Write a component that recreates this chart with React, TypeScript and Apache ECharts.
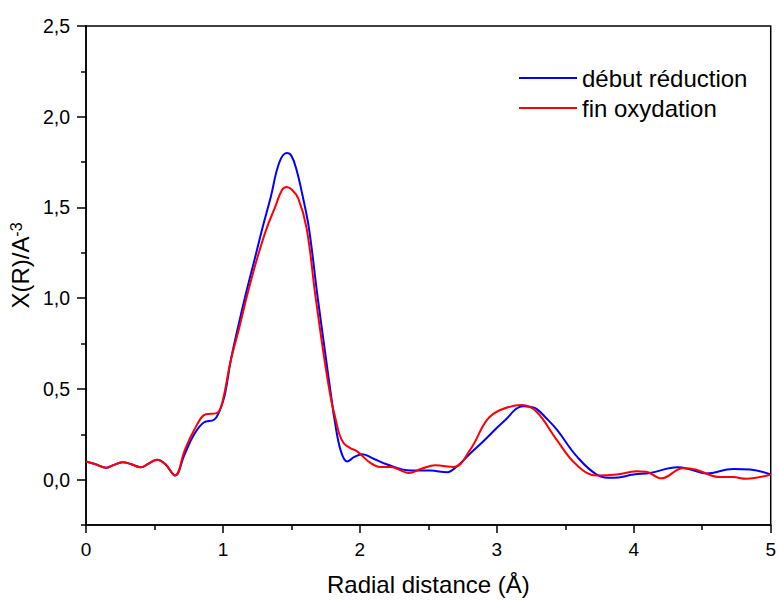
import React, { useEffect, useRef } from "react";
import * as echarts from "echarts";

const blueR = [0, 0.07, 0.146, 0.2, 0.267, 0.33, 0.4, 0.46, 0.52, 0.58, 0.65, 0.72, 0.79, 0.86, 0.935, 0.97, 1.01, 1.057, 1.11, 1.166, 1.23, 1.288, 1.35, 1.41, 1.465, 1.5, 1.54, 1.58, 1.628, 1.689, 1.754, 1.79, 1.815, 1.86, 1.907, 1.96, 2.017, 2.1, 2.2, 2.37, 2.515, 2.636, 2.71, 2.8, 2.9, 3.05, 3.195, 3.25, 3.29, 3.36, 3.44, 3.584, 3.73, 3.85, 4.0, 4.12, 4.32, 4.42, 4.53, 4.725, 4.85, 5.0];
const blueV = [0.1, 0.085, 0.065, 0.08, 0.096, 0.085, 0.068, 0.09, 0.11, 0.085, 0.023, 0.14, 0.25, 0.315, 0.33, 0.37, 0.456, 0.657, 0.84, 1.02, 1.21, 1.385, 1.56, 1.745, 1.8, 1.785, 1.7, 1.57, 1.385, 1.02, 0.657, 0.46, 0.329, 0.16, 0.1, 0.125, 0.14, 0.115, 0.083, 0.05, 0.05, 0.041, 0.074, 0.14, 0.21, 0.32, 0.405, 0.4, 0.39, 0.34, 0.274, 0.128, 0.028, 0.01, 0.028, 0.037, 0.068, 0.055, 0.034, 0.059, 0.056, 0.028];

const redR = [0, 0.07, 0.146, 0.2, 0.267, 0.33, 0.4, 0.46, 0.52, 0.58, 0.65, 0.72, 0.79, 0.875, 0.95, 0.99, 1.057, 1.12, 1.178, 1.25, 1.319, 1.38, 1.43, 1.465, 1.5, 1.55, 1.611, 1.674, 1.742, 1.79, 1.824, 1.85, 1.883, 1.93, 1.98, 2.077, 2.15, 2.223, 2.357, 2.45, 2.55, 2.685, 2.806, 2.928, 3.025, 3.183, 3.29, 3.436, 3.58, 3.73, 3.875, 4.02, 4.09, 4.2, 4.36, 4.45, 4.63, 4.725, 4.82, 5.0];
const redV = [0.1, 0.085, 0.065, 0.08, 0.096, 0.085, 0.068, 0.09, 0.11, 0.085, 0.023, 0.16, 0.274, 0.36, 0.365, 0.41, 0.657, 0.84, 1.02, 1.22, 1.385, 1.5, 1.595, 1.613, 1.6, 1.55, 1.385, 1.02, 0.657, 0.44, 0.329, 0.25, 0.2, 0.174, 0.156, 0.092, 0.07, 0.07, 0.037, 0.06, 0.079, 0.07, 0.165, 0.329, 0.384, 0.411, 0.374, 0.22, 0.083, 0.023, 0.028, 0.046, 0.044, 0.007, 0.063, 0.056, 0.014, 0.014, 0.005, 0.028];

const seriesNames = ["début réduction", "fin oxydation"];
const seriesColors = ["#0000FF", "#FF0000"];
const yMajorTicks = [0, 0.5, 1.0, 1.5, 2.0, 2.5];
const yMinorTicks = [-0.25, 0.25, 0.75, 1.25, 1.75, 2.25];

const FONT = "'Liberation Sans', Arial, sans-serif";

export default function App() {
  const ref = useRef<HTMLDivElement>(null);
  useEffect(() => {
    if (!ref.current) return;
    const chart = echarts.init(ref.current, null, { renderer: "svg" });
    const pair = (xs: number[], ys: number[]) => xs.map((x, i) => [x, ys[i]]);
    const axisLine = { show: true, onZero: false, lineStyle: { color: "#000", width: 1.5 } };
    chart.setOption({
      animation: false,
      backgroundColor: "#fff",
      textStyle: { fontFamily: FONT },
      grid: {
        left: 85.5,
        right: 7,
        top: 26,
        bottom: 71,
        show: true,
        borderColor: "#000",
        borderWidth: 1.5,
        containLabel: false,
      },
      legend: {
        orient: "vertical",
        left: 514,
        top: 61,
        icon: "rect",
        itemWidth: 58,
        itemHeight: 2,
        itemGap: 6,
        data: seriesNames,
        textStyle: { fontSize: 24, color: "#000", fontFamily: FONT, lineHeight: 24 },
      },
      xAxis: {
        type: "value",
        min: 0,
        max: 5,
        interval: 1,
        name: "Radial distance (Å)",
        nameLocation: "middle",
        nameGap: 47,
        nameTextStyle: { fontSize: 24, color: "#000", fontFamily: FONT },
        axisLine,
        axisTick: { show: true, length: 8, lineStyle: { color: "#000", width: 1.5 } },
        minorTick: { show: true, splitNumber: 2, length: 5, lineStyle: { color: "#000", width: 1.5 } },
        splitLine: { show: false },
        axisLabel: { fontSize: 19, color: "#000", margin: 15, fontFamily: FONT },
      },
      yAxis: [
        {
          type: "value",
          min: -0.25,
          max: 2.5,
          name: "X(R)/A{sup|-3}",
          nameLocation: "middle",
          nameGap: 32,
          nameRotate: 90,
          nameTextStyle: {
            fontSize: 24,
            color: "#000",
            fontFamily: FONT,
            padding: [0, 0, 0, 20],
            rich: { sup: { fontSize: 16, verticalAlign: "top", color: "#000", fontFamily: FONT } },
          },
          axisLine,
          axisTick: { show: true, length: 9, customValues: yMajorTicks, lineStyle: { color: "#000", width: 1.5 } },
          axisLabel: {
            show: true,
            customValues: yMajorTicks,
            fontSize: 19.5,
            color: "#000",
            margin: 16,
            fontFamily: FONT,
            formatter: (v: number) => v.toFixed(1).replace(".", ","),
          },
          splitLine: { show: false },
        },
        {
          type: "value",
          min: -0.25,
          max: 2.5,
          position: "left",
          offset: 0,
          axisLine: { show: false, onZero: false },
          axisTick: { show: true, length: 5, customValues: yMinorTicks, lineStyle: { color: "#000", width: 1.5 } },
          axisLabel: { show: false },
          splitLine: { show: false },
        },
      ],
      series: [
        {
          name: seriesNames[0],
          type: "line",
          data: pair(blueR, blueV),
          smooth: 0.4,
          showSymbol: false,
          symbol: "none",
          lineStyle: { color: seriesColors[0], width: 2 },
          itemStyle: { color: seriesColors[0] },
          z: 3,
        },
        {
          name: seriesNames[1],
          type: "line",
          data: pair(redR, redV),
          smooth: 0.4,
          showSymbol: false,
          symbol: "none",
          lineStyle: { color: seriesColors[1], width: 2 },
          itemStyle: { color: seriesColors[1] },
          z: 4,
        },
      ],
    });
    return () => chart.dispose();
  }, []);
  return (
    <div
      ref={ref}
      style={{ position: "fixed", left: 0, top: 0, width: 779, height: 601, background: "#fff" }}
    />
  );
}
